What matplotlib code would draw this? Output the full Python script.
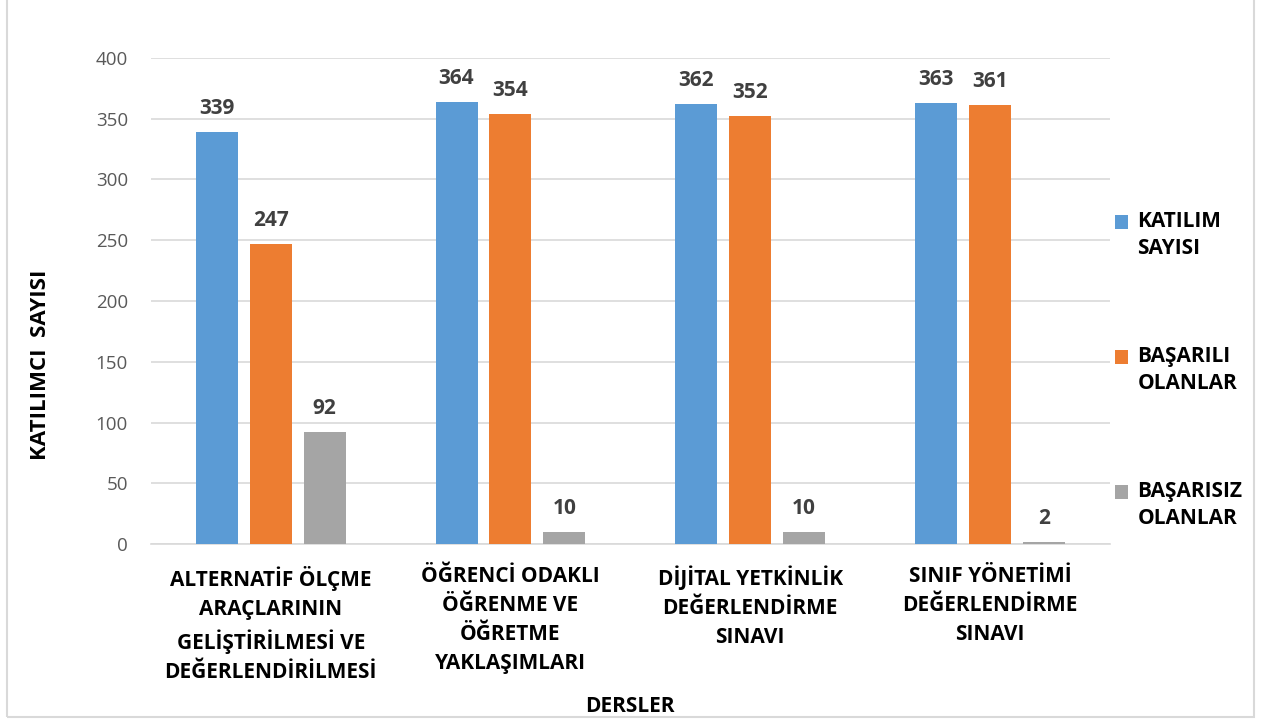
import matplotlib
matplotlib.use("Agg")
import matplotlib.pyplot as plt
import numpy as np
from matplotlib.patches import Rectangle, Patch
from matplotlib.legend_handler import HandlerBase

categories = ["ALTERNATİF ÖLÇME\nARAÇLARININ\nGELİŞTİRİLMESİ VE\nDEĞERLENDİRİLMESİ",
              "ÖĞRENCİ ODAKLI\nÖĞRENME VE\nÖĞRETME\nYAKLAŞIMLARI",
              "DİJİTAL YETKİNLİK\nDEĞERLENDİRME\nSINAVI",
              "SINIF YÖNETİMİ\nDEĞERLENDİRME\nSINAVI"]
katilim = [339, 364, 362, 363]
basarili = [247, 354, 352, 361]
basarisiz = [92, 10, 10, 2]
series_names = ["KATILIM\nSAYISI", "BAŞARILI\nOLANLAR", "BAŞARISIZ\nOLANLAR"]
colors = ["#5B9BD5", "#ED7D31", "#A5A5A5"]

plt.rcParams['font.family'] = ['Open Sans', 'DejaVu Sans']


class TopSquareHandler(HandlerBase):
    def create_artists(self, legend, orig_handle, xdescent, ydescent, width, height,
                       fontsize, trans):
        r = Rectangle((-xdescent, -ydescent + 10), width, height,
                      facecolor=orig_handle.get_facecolor(), edgecolor='none', transform=trans)
        return [r]


fig = plt.figure(figsize=(12.61, 7.22), dpi=100)
ax = fig.add_axes([0.1197, 0.2465, 0.7603, 0.6732])

x = np.arange(len(categories))
w = 0.175
off = 0.225
for i, (vals, c) in enumerate(zip([katilim, basarili, basarisiz], colors)):
    bars = ax.bar(x + (i - 1) * off, vals, width=w, color=c, zorder=3)
    for b, v in zip(bars, vals):
        ax.annotate(str(v), (b.get_x() + b.get_width() / 2, v), xytext=(0, 13),
                    textcoords='offset points', ha='center', va='baseline',
                    fontsize=15, fontweight='bold', color='#404040')

ax.set_xlim(-0.5, len(categories) - 0.5)
ax.set_ylim(0, 400)
ax.set_yticks(range(0, 401, 50))
ax.yaxis.grid(True, color='#D9D9D9', linewidth=1.2, zorder=0)
ax.tick_params(axis='y', length=0, labelsize=13.5, labelcolor='#595959', pad=16.5)
ax.tick_params(axis='x', length=0, pad=15.5)
ax.set_xticks(x)
ax.set_xticklabels(categories, fontsize=15, fontweight='bold', color='black', linespacing=1.5)
for s in ['top', 'right', 'left']:
    ax.spines[s].set_visible(False)
ax.spines['bottom'].set_color('#D9D9D9')
ax.spines['bottom'].set_linewidth(1.2)

fig.text(41 / 1261, 1 - 365 / 722, "KATILIMCI  SAYISI", rotation=90, ha='center', va='center',
         fontsize=16, fontweight='bold')
fig.text(630 / 1261, 1 - 706 / 722, "DERSLER", ha='center', va='center', fontsize=15, fontweight='bold')

handles = [Patch(facecolor=c) for c in colors]
leg = ax.legend(handles, series_names, loc='center left', bbox_to_anchor=(0.986, 0.358),
                frameon=False, prop={'weight': 'bold', 'size': 15},
                labelspacing=4.2, handlelength=0.63, handleheight=0.63, handletextpad=0.45,
                handler_map={Patch: TopSquareHandler()})
for t in leg.get_texts():
    t.set_linespacing(1.35)

fig.patches.append(Rectangle((0.0055, 0.007), 0.989, 1.2, transform=fig.transFigure,
                             fill=False, edgecolor='#D9D9D9', linewidth=1.5))

fig.savefig("out.png", dpi=100, facecolor='white')
